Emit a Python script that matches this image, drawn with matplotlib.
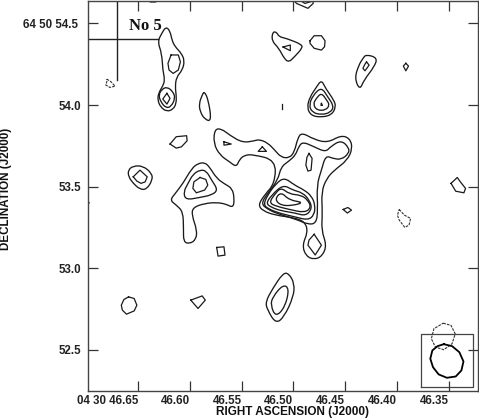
import matplotlib
matplotlib.use("Agg")
import matplotlib.pyplot as plt
from matplotlib.path import Path
from matplotlib.patches import PathPatch

plt.rcParams['font.family'] = ['Liberation Sans', 'DejaVu Sans']

ra_ticks = [46.65, 46.60, 46.55, 46.50, 46.45, 46.40, 46.35]
ra_labels = ['04 30 46.65', '46.60', '46.55', '46.50', '46.45', '46.40', '46.35']
dec_ticks = [54.5, 54.0, 53.5, 53.0, 52.5]
dec_labels = ['64 50 54.5', '54.0', '53.5', '53.0', '52.5']

no5_outer = [(46.623,54.480),(46.619,54.455),(46.617,54.394),(46.614,54.357),(46.608,54.317),(46.605,54.272),(46.607,54.215),(46.613,54.170),(46.614,54.108),(46.613,54.061),(46.613,54.010),(46.616,53.974),(46.622,53.960),(46.628,53.986),(46.631,54.031),(46.630,54.075),(46.626,54.116),(46.624,54.153),(46.626,54.215),(46.627,54.317),(46.631,54.388),(46.627,54.440)]
no5_upper = [(46.618,54.307),(46.611,54.307),(46.609,54.265),(46.611,54.215),(46.616,54.194),(46.620,54.215),(46.621,54.256)]
no5_ring = [(46.622,54.112),(46.616,54.082),(46.614,54.041),(46.618,53.990),(46.623,53.982),(46.628,54.020),(46.630,54.061),(46.627,54.096)]
no5_core = [(46.622,54.072),(46.619,54.041),(46.622,54.006),(46.626,54.037)]
top_outer = [(46.500,54.644),(46.497,54.623),(46.486,54.593),(46.481,54.623),(46.481,54.644)]
top_inner = [(46.494,54.644),(46.489,54.623),(46.483,54.634),(46.4815,54.644)]
top_left = [(46.641,54.644),(46.638,54.632),(46.633,54.632),(46.629,54.644)]
blob_a = [(46.520,54.450),(46.516,54.446),(46.514,54.419),(46.507,54.409),(46.492,54.372),(46.4915,54.348),(46.499,54.296),(46.5045,54.262),(46.509,54.286),(46.514,54.348),(46.521,54.394)]
blob_a_in = [(46.510,54.356),(46.503,54.368),(46.503,54.333)]
blob_b = [(46.484,54.394),(46.480,54.425),(46.473,54.425),(46.4695,54.394),(46.470,54.357),(46.473,54.337),(46.480,54.348),(46.484,54.378)]
blob_c = [(46.430,54.310),(46.419,54.290),(46.422,54.235),(46.432,54.153),(46.436,54.092),(46.441,54.164),(46.437,54.245),(46.433,54.286)]
blob_c_in = [(46.4295,54.264),(46.427,54.245),(46.431,54.210),(46.433,54.225),(46.431,54.251)]
diamond = [(46.3916,54.256),(46.389,54.239),(46.3916,54.210),(46.394,54.239)]
peak_d1 = [(46.473,54.155),(46.469,54.102),(46.461,54.031),(46.459,53.990),(46.463,53.940),(46.473,53.925),(46.483,53.935),(46.487,53.986),(46.484,54.051),(46.478,54.108)]
peak_d2 = [(46.473,54.110),(46.467,54.051),(46.461,53.994),(46.464,53.955),(46.473,53.940),(46.482,53.955),(46.485,54.000),(46.481,54.061)]
peak_d3 = [(46.473,54.075),(46.468,54.031),(46.465,54.000),(46.469,53.968),(46.4775,53.968),(46.481,54.006),(46.478,54.041)]
peak_d4 = [(46.473,54.010),(46.472,53.998),(46.4735,53.998)]
speck = [(46.511,54.004),(46.511,53.977)]
edge_speck = [(46.6985,53.410),(46.697,53.400)]
blob_e = [(46.586,54.085),(46.582,54.031),(46.579,53.900),(46.5855,53.912),(46.590,53.959),(46.591,54.010),(46.588,54.061)]
blob_f = [(46.619,53.761),(46.613,53.806),(46.603,53.812),(46.6025,53.781),(46.608,53.744),(46.613,53.736)]
blob_g = [(46.6595,53.601),(46.6545,53.627),(46.645,53.627),(46.6365,53.581),(46.636,53.540),(46.6416,53.483),(46.648,53.483),(46.6545,53.520),(46.659,53.560)]
blob_g_in = [(46.6545,53.560),(46.648,53.601),(46.641,53.560),(46.643,53.529),(46.647,53.520),(46.651,53.534)]
blob_h1 = [(46.5856,53.648),(46.581,53.621),(46.574,53.550),(46.566,53.515),(46.559,53.489),(46.557,53.428),(46.558,53.370),(46.565,53.393),(46.574,53.403),(46.5856,53.397),(46.597,53.372),(46.598,53.325),(46.5930,53.233),(46.594,53.175),(46.600,53.150),(46.606,53.160),(46.606,53.244),(46.6065,53.346),(46.613,53.387),(46.619,53.417),(46.614,53.458),(46.6065,53.520),(46.598,53.612),(46.592,53.642)]
blob_h2 = [(46.590,53.603),(46.584,53.597),(46.579,53.540),(46.5727,53.479),(46.579,53.448),(46.590,53.434),(46.604,53.418),(46.606,53.468),(46.6016,53.520),(46.597,53.575)]
blob_h3 = [(46.590,53.556),(46.5845,53.544),(46.5826,53.509),(46.5856,53.479),(46.5936,53.462),(46.597,53.489),(46.596,53.529)]
square = [(46.574,53.127),(46.567,53.131),(46.566,53.080),(46.5727,53.074)]
main_1 = [(46.576,53.852),(46.5695,53.855),(46.5616,53.816),(46.549,53.769),(46.5375,53.781),(46.533,53.789),(46.525,53.769),(46.518,53.724),(46.512,53.680),(46.504,53.675),(46.499,53.713),(46.496,53.795),(46.492,53.832),(46.480,53.789),(46.467,53.769),(46.454,53.815),(46.4455,53.795),(46.443,53.734),(46.448,53.662),(46.4605,53.601),(46.468,53.550),(46.473,53.468),(46.472,53.336),(46.473,53.233),(46.468,53.141),(46.472,53.075),(46.480,53.052),(46.488,53.075),(46.4915,53.141),(46.486,53.223),(46.489,53.284),(46.499,53.309),(46.518,53.325),(46.5295,53.352),(46.534,53.387),(46.528,53.448),(46.518,53.520),(46.517,53.662),(46.539,53.697),(46.547,53.693),(46.552,53.667),(46.555,53.620),(46.5616,53.652),(46.571,53.693),(46.577,53.765)]
main_2 = [(46.491,53.775),(46.480,53.744),(46.469,53.712),(46.464,53.746),(46.454,53.785),(46.4465,53.739),(46.4465,53.7035),(46.454,53.665),(46.462,53.673),(46.469,53.690),(46.473,53.601),(46.4775,53.509),(46.4765,53.356),(46.478,53.275),(46.486,53.268),(46.497,53.299),(46.5166,53.336),(46.526,53.366),(46.531,53.397),(46.525,53.458),(46.515,53.540),(46.512,53.621),(46.504,53.658),(46.498,53.693),(46.495,53.744)]
main_3 = [(46.5087,53.556),(46.499,53.509),(46.4895,53.479),(46.4825,53.442),(46.479,53.387),(46.480,53.325),(46.486,53.295),(46.497,53.312),(46.513,53.336),(46.523,53.360),(46.529,53.387),(46.525,53.448),(46.5166,53.520)]
main_4 = [(46.510,53.512),(46.5007,53.479),(46.491,53.462),(46.4846,53.417),(46.482,53.366),(46.488,53.320),(46.499,53.339),(46.512,53.352),(46.521,53.372),(46.5265,53.397),(46.521,53.448)]
main_5 = [(46.512,53.495),(46.504,53.454),(46.4926,53.448),(46.486,53.417),(46.483,53.372),(46.489,53.340),(46.504,53.360),(46.5166,53.380),(46.5235,53.401),(46.518,53.454)]
main_6 = [(46.512,53.468),(46.504,53.417),(46.490,53.403),(46.5007,53.384),(46.512,53.384),(46.518,53.422)]
lobe_mark = [(46.567,53.775),(46.560,53.761),(46.567,53.754)]
lobe_tri = [(46.530,53.744),(46.526,53.716),(46.534,53.716)]
main_oval = [(46.485,53.7035),(46.482,53.673),(46.483,53.601),(46.486,53.595),(46.488,53.632),(46.487,53.679)]
main_lower = [(46.480,53.208),(46.473,53.141),(46.479,53.081),(46.4860,53.141),(46.485,53.172)]
small_oval = [(46.452,53.360),(46.4475,53.372),(46.444,53.356),(46.448,53.338)]
blob_right = [(46.348,53.520),(46.342,53.556),(46.339,53.529),(46.334,53.489),(46.3356,53.462),(46.3435,53.472)]
circle_low = [(46.659,52.824),(46.6536,52.814),(46.651,52.773),(46.6536,52.738),(46.661,52.718),(46.665,52.743),(46.666,52.773),(46.6635,52.808)]
kite = [(46.599,52.804),(46.588,52.830),(46.585,52.804),(46.592,52.753)]
ell_outer = [(46.510,52.970),(46.5045,52.968),(46.499,52.906),(46.500,52.824),(46.509,52.701),(46.517,52.660),(46.525,52.743),(46.527,52.793),(46.520,52.875)]
ell_inner = [(46.510,52.900),(46.504,52.875),(46.508,52.763),(46.517,52.700),(46.522,52.773),(46.520,52.824)]

neg_left = [(46.680,54.159),(46.676,54.143),(46.672,54.116),(46.677,54.108),(46.681,54.123),(46.680,54.143)]
neg_right = [(46.398,53.360),(46.393,53.325),(46.387,53.305),(46.3885,53.264),(46.3926,53.250),(46.398,53.295),(46.3997,53.325)]

beam_solid = [(46.355,52.534),(46.347,52.522),(46.340,52.485),(46.336,52.428),(46.338,52.373),(46.3435,52.336),(46.352,52.328),(46.360,52.349),(46.3654,52.393),(46.368,52.445),(46.366,52.496),(46.361,52.522)]
beam_dashed = [(46.3555,52.663),(46.348,52.649),(46.344,52.598),(46.347,52.537),(46.355,52.500),(46.363,52.516),(46.367,52.567),(46.3645,52.629)]
beam_box_ra = [46.3765, 46.3264]
beam_box_dec = [52.269, 52.594]
cross_ra = 46.670
cross_dec = 54.403
cross_ra_end = 46.631
cross_dec_end = 54.153

smooth = [no5_outer, no5_ring, blob_a, blob_c, peak_d1, peak_d2, peak_d3,
          blob_e, blob_g, blob_h1, blob_h2, main_1, main_2,
          main_3, main_4, main_5, main_6, ell_outer, ell_inner]
sharp = [no5_upper, no5_core, top_outer, top_inner, top_left, blob_a_in, blob_b, blob_c_in,
         diamond, peak_d4, blob_f, blob_g_in, blob_h3, square, lobe_mark, lobe_tri, main_oval,
         main_lower, small_oval, blob_right, circle_low, kite]
dashed = [neg_left, neg_right, beam_dashed]

fig = plt.figure(figsize=(4.79, 4.20), dpi=100)
ax = fig.add_axes([87.5/479, 29/420, 390.5/479, 390.5/420])
ax.set_xlim(46.6986, 46.322)
ax.set_ylim(52.247, 54.641)

def closed(c):
    return [p[0] for p in c] + [c[0][0]], [p[1] for p in c] + [c[0][1]]

def curve(c, **kw):
    """Closed quadratic curve with the read points as control points."""
    n = len(c)
    mid = lambda a, b: ((a[0] + b[0]) / 2, (a[1] + b[1]) / 2)
    verts = [mid(c[-1], c[0])]
    codes = [Path.MOVETO]
    for i in range(n):
        verts += [c[i], mid(c[i], c[(i + 1) % n])]
        codes += [Path.CURVE3, Path.CURVE3]
    ax.add_patch(PathPatch(Path(verts, codes), fill=False, **kw))

for c in smooth:
    curve(c, edgecolor='#1a1a1a', lw=0.95)
for c in sharp:
    x, y = closed(c)
    ax.plot(x, y, color='#1a1a1a', lw=0.9, solid_joinstyle='round')
for c in [speck, edge_speck]:
    ax.plot([p[0] for p in c], [p[1] for p in c], color='#1a1a1a', lw=0.9)
for c in dashed:
    x, y = closed(c)
    ax.plot(x, y, color='#333333', lw=0.8, ls=(0, (2.4, 1.0)))

x, y = closed(beam_solid)
ax.plot(x, y, color='black', lw=1.3, solid_joinstyle='round')
ax.plot([beam_box_ra[0], beam_box_ra[1], beam_box_ra[1], beam_box_ra[0], beam_box_ra[0]],
        [beam_box_dec[0], beam_box_dec[0], beam_box_dec[1], beam_box_dec[1], beam_box_dec[0]],
        color='#444444', lw=0.9)

ax.plot([cross_ra, cross_ra], [cross_dec_end, 54.641], color='#222222', lw=1.0)
ax.plot([46.6986, cross_ra_end], [cross_dec, cross_dec], color='#222222', lw=1.0)
ax.text(46.6585, 54.484, 'No 5', family=['Liberation Serif'], fontweight='bold',
        fontsize=12, va='center', ha='left', color='#111111')

ax.set_xticks(ra_ticks)
ax.set_xticklabels(ra_labels, ha='right', fontweight='bold', fontsize=8.3, color='#222222')
ax.set_yticks(dec_ticks)
ax.set_yticklabels(dec_labels, fontweight='bold', fontsize=8.3, color='#222222')
ax.tick_params(axis='both', direction='in', length=7.4, width=0.9, color='#333333',
               top=True, right=True, labelsize=8.3)
ax.tick_params(axis='x', pad=3.2)
ax.tick_params(axis='y', pad=4.4)
ax.yaxis.get_major_ticks()[0].set_pad(6.5)
for s in ax.spines.values():
    s.set_linewidth(1.0)
    s.set_color('#444444')

fig.text(292/479, 1 - 412/420, 'RIGHT ASCENSION (J2000)', ha='center', va='center',
         fontweight='bold', fontsize=8.5, color='#111111')
fig.text(6/479, 1 - 189/420, 'DECLINATION (J2000)', ha='center', va='center',
         rotation=90, fontweight='bold', fontsize=8.4, color='#111111')

fig.savefig('out.png', dpi=100)
